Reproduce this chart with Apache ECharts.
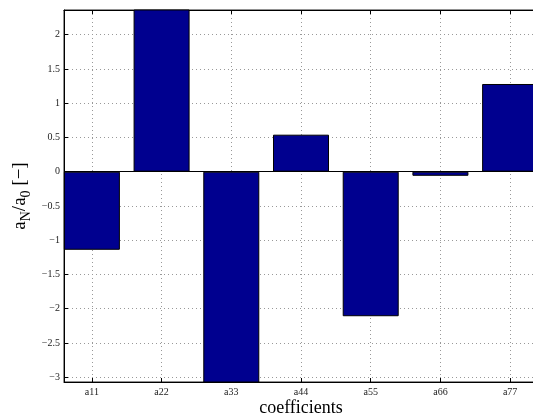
<!DOCTYPE html>
<html>
<head>
<meta charset="utf-8">
<script src="https://cdn.jsdelivr.net/npm/echarts@6/dist/echarts.min.js"></script>
<style>
  html, body { margin: 0; padding: 0; background: #fff; }
  #chart { width: 533px; height: 415px; }
</style>
</head>
<body>
<div id="chart"></div>
<script>
// coefficient names and normalised values a_N/a_0
var categories = ['a11', 'a22', 'a33', 'a44', 'a55', 'a66', 'a77']
var positions = [1, 2, 3, 4, 5, 6, 7]
var values = [-1.14, 2.6, -3.3, 0.54, -2.11, -0.06, 1.28]
var yTicks = [-3, -2.5, -2, -1.5, -1, -0.5, 0, 0.5, 1, 1.5, 2]

var font = 'Liberation Serif'
var chart = echarts.init(document.getElementById('chart'))

var xCommon = {
  type: 'value',
  min: 0.6,
  max: 7.4,
  axisLine: { show: true, onZero: false, lineStyle: { color: '#000', width: 1 } },
  axisTick: { show: true, inside: true, length: 4, customValues: positions, lineStyle: { color: '#000' } },
  splitLine: { show: false }
}

var option = {
  animation: false,
  backgroundColor: '#fff',
  grid: {
    left: 64, top: 10, width: 474, bottom: 33,
    outerBoundsMode: 'none',
    show: true, borderColor: '#222', borderWidth: 1, containLabel: false
  },
  xAxis: [
    Object.assign({}, xCommon, {
      position: 'bottom',
      name: 'coefficients',
      nameLocation: 'middle',
      nameGap: 17,
      nameMoveOverlap: false,
      nameTextStyle: { fontFamily: font, fontSize: 18, color: '#000' },
      axisLabel: {
        customValues: positions,
        formatter: function (v) { return categories[Math.round(v) - 1] || '' },
        fontFamily: font, fontSize: 10, color: '#222', margin: 5
      },
      splitLine: { show: true, lineStyle: { color: '#999', type: [1, 3], width: 1 } }
    }),
    Object.assign({}, xCommon, {
      position: 'top',
      axisLabel: { show: false }
    })
  ],
  yAxis: {
    type: 'value',
    min: -3.07,
    max: 2.36,
    name: '{a|a}{s|N}{a|/a}{s|0}{a| [\u2212]}',
    nameLocation: 'middle',
    nameGap: 31,
    nameMoveOverlap: false,
    nameTextStyle: {
      fontFamily: font, color: '#000',
      rich: {
        a: { fontFamily: font, fontSize: 19, color: '#000' },
        s: { fontFamily: font, fontSize: 14, color: '#000', padding: [12, 0, 0, 0] }
      }
    },
    axisLine: { show: true, onZero: false, lineStyle: { color: '#000', width: 1 } },
    axisTick: { show: true, inside: true, length: 4, customValues: yTicks, lineStyle: { color: '#000' } },
    axisLabel: {
      customValues: yTicks,
      formatter: function (v) { return String(v).replace('-', '\u2212') },
      fontFamily: font, fontSize: 10, color: '#222', margin: 4
    },
    splitLine: { show: true, lineStyle: { color: '#999', type: [1, 3], width: 1 } }
  },
  series: [
    {
      type: 'bar',
      data: positions.map(function (p, i) { return [p, values[i]] }),
      barWidth: 56,
      clip: true,
      itemStyle: { color: '#00008F', borderColor: '#000', borderWidth: 1 },
      markLine: {
        silent: true,
        symbol: 'none',
        label: { show: false },
        lineStyle: { color: '#000', type: 'solid', width: 1 },
        data: [{ yAxis: 0 }]
      }
    }
  ]
}

chart.setOption(option)
</script>
</body>
</html>
